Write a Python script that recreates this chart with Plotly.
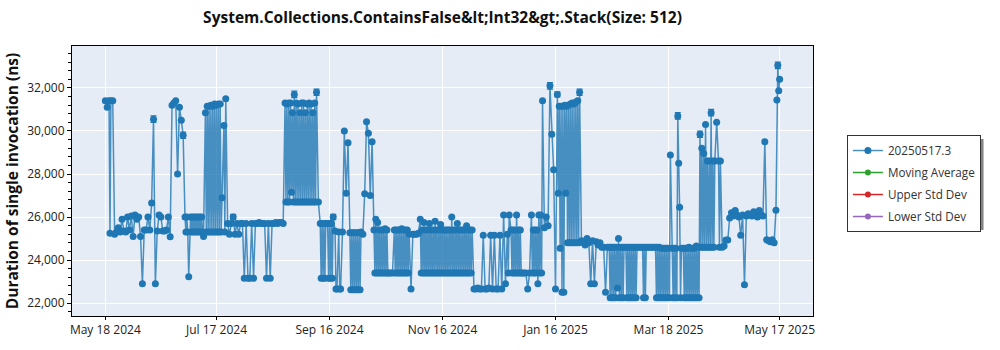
import pandas as pd
import plotly.graph_objects as go

start_date = "2024-05-18"
# first run of each day, May 18 2024 .. May 17 2025 (365 days)
values = [
    31400, 31100, 31400, 31400, 31400, 25200, 25300, 25500, 25300, 25900,  # 0
    25350, 25300, 26000, 25400, 26050, 25100, 26100, 25900, 26000, 25100,  # 10
    22900, 25400, 25400, 26000, 25400, 26650, 30550, 22900, 25350, 26100,  # 20
    26000, 25350, 25350, 25400, 26000, 25080, 31200, 31300, 31400, 28000,  # 30
    31100, 30500, 29800, 26000, 26000, 23230, 26000, 26000, 26000, 26000,  # 40
    26000, 26000, 26000, 25100, 30850, 31150, 31150, 31200, 31150, 31250,  # 50
    31200, 31250, 31250, 26900, 30250, 31500, 25700, 25200, 25700, 26000,  # 60
    25200, 25700, 25200, 25700, 25700, 23150, 25700, 23150, 23150, 25700,  # 70
    23150, 25700, 25700, 25750, 25700, 25700, 25700, 23150, 25700, 23150,  # 80
    25700, 25700, 25750, 25700, 25750, 25750, 25700, 31300, 31250, 31300,  # 90
    31300, 30850, 31700, 31300, 31250, 30850, 31300, 31300, 30850, 31250,  # 100
    31300, 31250, 30850, 31300, 31800, 26700, 25700, 25700, 25700, 25700,  # 110
    25700, 25700, 25700, 26000, 25350, 22650, 25300, 22650, 25300, 30000,  # 120
    27100, 29450, 25270, 25270, 25270, 25270, 25270, 25270, 25300, 25200,  # 130
    27080, 30430, 29900, 27000, 29500, 25400, 25900, 25750, 25400, 25400,  # 140
    25400, 25450, 25400, 23400, 23400, 23400, 25400, 25400, 25400, 25400,  # 150
    25450, 25400, 25400, 25400, 25200, 22650, 25200, 25200, 25200, 25250,  # 160
    25900, 25400, 25750, 25400, 25400, 25700, 25400, 25400, 25800, 25400,  # 170
    25400, 25650, 25400, 25400, 25400, 25400, 25400, 26000, 25400, 25400,  # 180
    25700, 25400, 25400, 25400, 25400, 25600, 25400, 25400, 25400, 22650,  # 190
    22650, 22700, 22650, 22650, 25150, 22650, 22650, 22700, 25150, 22650,  # 200
    25150, 22650, 22650, 25150, 22650, 26100, 22900, 25200, 26100, 25400,  # 210
    25400, 25400, 26100, 25400, 25400, 23400, 23400, 23400, 22650, 23400,  # 220
    26100, 25400, 25400, 25400, 26100, 26100, 31400, 25500, 26000, 25600,  # 230
    32100, 29850, 28200, 22650, 31700, 31150, 31150, 31150, 31200, 31150,  # 240
    31200, 31250, 31300, 31250, 31350, 31400, 31800, 24900, 24800, 24700,  # 250
    25000, 24800, 22900, 24900, 22900, 24850, 24700, 24800, 24600, 24600,  # 260
    22500, 24600, 24600, 24600, 24600, 24600, 24600, 25000, 24600, 24600,  # 270
    24600, 24600, 24600, 24600, 24600, 24600, 24600, 24600, 24600, 24600,  # 280
    24600, 24600, 24600, 24600, 24600, 24600, 24600, 24600, 24600, 24600,  # 290
    24550, 24550, 24550, 24550, 24550, 28880, 24550, 24550, 24550, 30700,  # 300
    26460, 24550, 24550, 24550, 24550, 24600, 24550, 24550, 24550, 24650,  # 310
    24600, 29850, 29200, 28950, 30300, 28600, 28600, 30850, 28600, 28600,  # 320
    30400, 28600, 28600, 24600, 24650, 24930, 24930, 25950, 26200, 26050,  # 330
    26300, 26100, 26000, 25150, 26100, 22850, 26050, 26150, 26100, 26050,  # 340
    26250, 26100, 26000, 26300, 26100, 26050, 29500, 24950, 24900, 24850,  # 350
    24950, 24800, 26310, 33050, 32400,                                     # 360
]

# second (midday) run on some days: day index and value
noon_days = [
    2,
    43, 44, 46, 47, 48, 49, 50, 51, 52,
    54, 55, 56, 57, 58, 59, 60, 61, 62, 64,
    97, 98, 99, 100, 101, 102, 103, 104, 105, 106, 107, 108, 109, 110, 111, 112, 113,
    116, 117, 118, 120, 121, 122,
    124, 126,
    132, 133, 134, 135, 136, 137,
    145, 146, 147, 148, 149, 150, 151, 152, 156, 157, 158, 159, 160, 161, 162, 163,
    170, 171, 172, 173, 174, 175, 176, 177, 178, 179, 180, 181, 182, 183,
    184, 185, 186, 187, 188, 189, 190, 191, 192, 193, 194, 195, 196, 197,
    217, 219, 220, 221, 222, 223, 224,
    230, 231, 232, 233, 234, 235,
    244, 245, 246, 247, 248, 249, 250, 251, 252, 253, 254, 255,
    272, 273, 274, 275, 276, 277, 278, 279,
    281, 282, 283, 284, 285, 286, 290, 291, 297, 298, 299,
    300, 301, 302, 303, 304, 306, 307, 308, 309, 310,
    312, 313, 314, 315, 316, 317, 318, 319, 320,
    321, 322, 323, 324, 325, 326, 327, 328, 331,
    362, 363,
]
noon_vals = [
    25250,
    25300, 25300, 25300, 25300, 25300, 25300, 25300, 25300, 25300,
    25300, 25300, 25300, 25300, 25300, 25300, 25300, 25300, 25300, 25300,
    26700, 26700, 26700, 27150, 26700, 26700, 26700, 26700, 26700, 26700, 26700, 26700, 26700, 26700, 26700, 26700, 26700,
    23150, 23150, 23150, 23150, 23150, 23150,
    22650, 22650,
    22620, 22620, 22620, 22620, 22620, 22620,
    23400, 23400, 23400, 23400, 23400, 23400, 23400, 23400, 23400, 23400, 23400, 23400, 23400, 23400, 23400, 23400,
    23400, 23400, 23400, 23400, 23400, 23400, 23400, 23400, 23400, 23400, 23400, 23400, 23400, 23400,
    23400, 23400, 23400, 23400, 23400, 23400, 23400, 23400, 23400, 23400, 23400, 23400, 23400, 23400,
    23400, 23400, 23400, 23400, 23400, 23400, 23400,
    23400, 23400, 23400, 22900, 23400, 23400,
    27100, 24550, 22500, 22500, 27100, 24800, 24800, 24800, 24800, 24800, 24800, 24800,
    22250, 22250, 22250, 22250, 22700, 22250, 22250, 22250,
    22250, 22250, 22250, 22250, 22250, 22250, 22250, 22250, 22250, 22250, 22250,
    22250, 22250, 22250, 22250, 22250, 22250, 22250, 22250, 28500, 22250,
    22250, 22250, 22250, 22250, 22250, 22250, 22250, 22250, 22250,
    24600, 24600, 24600, 24600, 24600, 24600, 24600, 24600, 24600,
    31440, 31870,
]

# points with visible error bars (day index -> error in ns)
err_days = [26, 42, 69, 102, 114, 123, 240, 244, 256, 309, 321, 327, 363]
err_vals = [150, 150, 120, 150, 150, 120, 150, 120, 150, 150, 150, 150, 150]

tick_dates = ["2024-05-18", "2024-07-17", "2024-09-16", "2024-11-16",
              "2025-01-16", "2025-03-18", "2025-05-17"]
tick_labels = ["May 18 2024", "Jul 17 2024", "Sep 16 2024", "Nov 16 2024",
               "Jan 16 2025", "Mar 18 2025", "May 17 2025"]

t0 = pd.Timestamp(start_date)
dates = pd.date_range(start_date, periods=len(values), freq="D")
errs = [0] * len(values)
for d, e in zip(err_days, err_vals):
    errs[d] = e
noon_dates = [t0 + pd.Timedelta(days=d, hours=12) for d in noon_days]

df = pd.DataFrame({"x": list(dates) + noon_dates,
                   "y": values + noon_vals,
                   "e": errs + [0] * len(noon_vals)}).sort_values("x")

blue = "#1f77b4"
fig = go.Figure()
fig.add_trace(go.Scatter(
    x=df["x"], y=df["y"], mode="lines+markers", name="20250517.3",
    line=dict(color="rgba(31,119,180,0.8)", width=1.5),
    marker=dict(color=blue, size=7),
    error_y=dict(type="data", array=df["e"], color=blue, thickness=1.2, width=3),
    legendgroup="a",
))
for name, col, g in [("Moving Average", "#2ca02c", "b"),
                     ("Upper Std Dev", "#d62728", "c"),
                     ("Lower Std Dev", "#9467bd", "d")]:
    fig.add_trace(go.Scatter(x=[None], y=[None], mode="lines+markers", name=name,
                             line=dict(color=col, width=1.5),
                             marker=dict(color=col, size=6), legendgroup=g))

font_family = "Open Sans, Noto Sans, sans-serif"
L, R, T, B = 70, 187, 46, 31
pw, ph = 1000 - L - R, 350 - T - B

def px_to_paper_x(px):
    return (px - L) / pw

def px_to_paper_y(py):
    return (350 - B - py) / ph

fig.update_layout(
    width=1000, height=350,
    margin=dict(l=L, r=R, t=T, b=B),
    paper_bgcolor="white", plot_bgcolor="#e5ecf6",
    font=dict(family=font_family, size=12, color="#222"),
    title=dict(text="System.Collections.ContainsFalse&amp;lt;Int32&amp;gt;.Stack(Size: 512)",
               x=0.5, xref="paper", xanchor="center",
               y=1 - 18 / 350, yref="container", yanchor="middle",
               font=dict(family=font_family, size=15.5, color="#111", weight="bold")),
    showlegend=True,
    legend=dict(x=px_to_paper_x(847), y=px_to_paper_y(136), xanchor="left", yanchor="top",
                bgcolor="white", bordercolor="#333", borderwidth=1,
                font=dict(size=11.7, color="#333"), tracegroupgap=3,
                traceorder="grouped"),
    shapes=[dict(type="rect", xref="paper", yref="paper", layer="above",
                 x0=px_to_paper_x(851), x1=px_to_paper_x(984),
                 y0=px_to_paper_y(232), y1=px_to_paper_y(140),
                 fillcolor="rgba(110,110,110,0.85)", line=dict(width=0))],
)
fig.update_xaxes(
    type="date", range=["2024-04-30", "2025-06-04"],
    tickvals=pd.to_datetime(tick_dates), ticktext=tick_labels,
    showgrid=True, gridcolor="white", gridwidth=1,
    showline=True, linecolor="black", linewidth=1, mirror=True,
    ticks="outside", ticklen=3, tickcolor="black",
    tickfont=dict(size=12, color="#222"), zeroline=False,
)
fig.update_yaxes(
    range=[21400, 33950], dtick=2000, tickformat=",",
    showgrid=True, gridcolor="white", gridwidth=1,
    showline=True, linecolor="black", linewidth=1, mirror=True,
    ticks="outside", ticklen=4, tickcolor="black",
    minor=dict(dtick=400, ticks="outside", ticklen=3, tickcolor="black", showgrid=False),
    tickfont=dict(size=12, color="#222"), zeroline=False,
    title=dict(text="Duration of single invocation (ns)", standoff=4,
               font=dict(size=15.5, color="#111", weight="bold")),
)
fig.write_html("out.html")
